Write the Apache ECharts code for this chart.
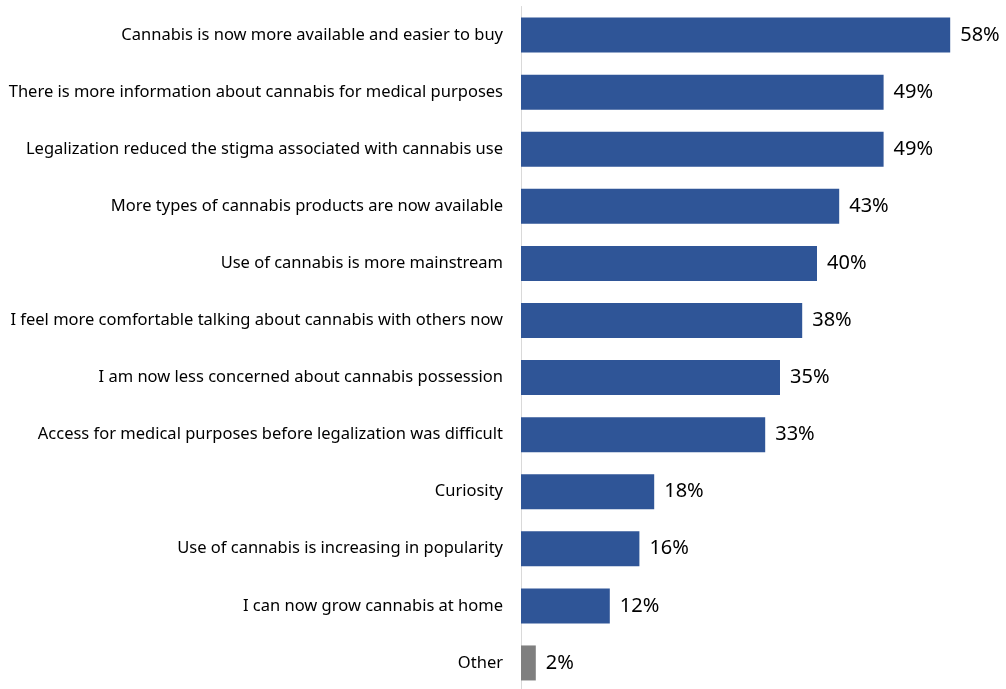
<!DOCTYPE html>
<html><head><meta charset="utf-8">
<script src="https://cdn.jsdelivr.net/npm/echarts@6/dist/echarts.min.js"></script>
<style>html,body{margin:0;padding:0;background:#fff;overflow:hidden}#c{width:1006px;height:700px}</style>
</head><body><div id="c"></div>
<script>
const categories = [
  "Cannabis is now more available and easier to buy",
  "There is more information about cannabis for medical purposes",
  "Legalization reduced the stigma associated with cannabis use",
  "More types of cannabis products are now available",
  "Use of cannabis is more mainstream",
  "I feel more comfortable talking about cannabis with others now",
  "I am now less concerned about cannabis possession",
  "Access for medical purposes before legalization was difficult",
  "Curiosity",
  "Use of cannabis is increasing in popularity",
  "I can now grow cannabis at home",
  "Other"
];
const values = [58, 49, 49, 43, 40, 38, 35, 33, 18, 16, 12, 2];
const barColors = ["#2F5597","#2F5597","#2F5597","#2F5597","#2F5597","#2F5597","#2F5597","#2F5597","#2F5597","#2F5597","#2F5597","#7F7F7F"];

const chart = echarts.init(document.getElementById('c'), null, {renderer:'canvas'});
chart.setOption({
  animation: false,
  grid: {left: 521, top: 6.5, width: 444, height: 685},
  xAxis: {type:'value', min:0, max:60, show:false},
  yAxis: {
    type:'category', data: categories, inverse:true,
    axisLine:{show:true, lineStyle:{color:'#D9D9D9', width:1}},
    axisTick:{show:false},
    axisLabel:{color:'#000', fontFamily:'Noto Sans', fontSize:16.5, margin:18}
  },
  series:[{
    type:'bar', barWidth:35,
    data: values.map((v,i)=>({value:v, itemStyle:{color:barColors[i]}})),
    label:{show:true, position:'right', distance:10, formatter:'{c}%', color:'#000', fontFamily:'Noto Sans', fontSize:20}
  }]
});
</script></body></html>
